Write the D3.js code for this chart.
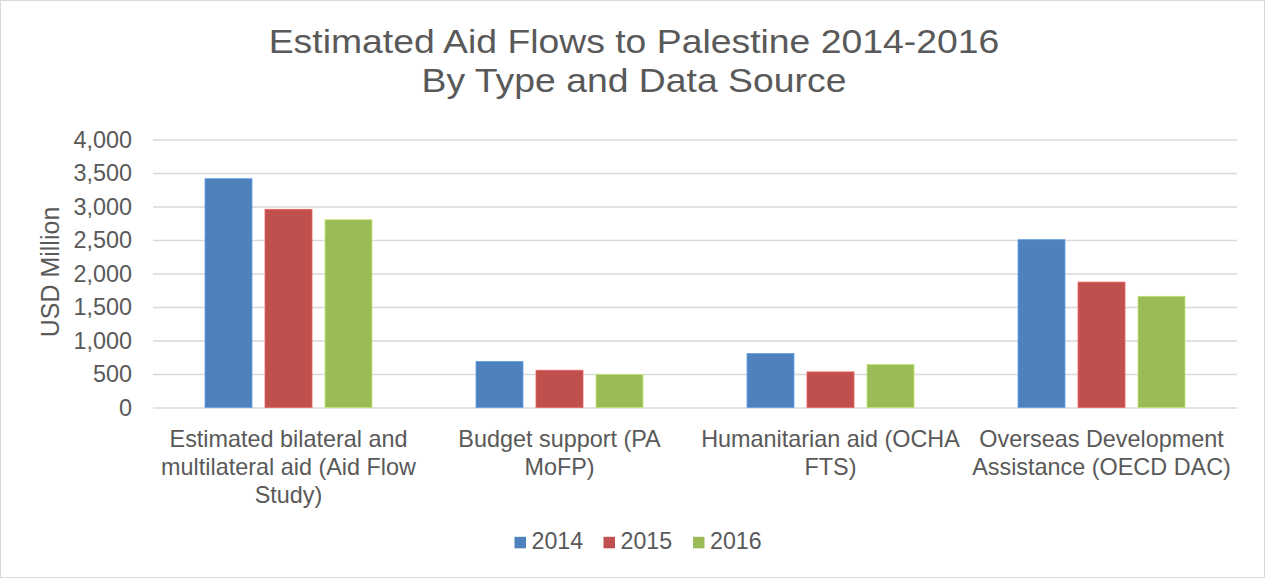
<!DOCTYPE html>
<html>
<head>
<meta charset="utf-8">
<script src="https://cdn.jsdelivr.net/npm/d3@7"></script>
<style>
body { margin: 0; background: #fff; }
svg { font-family: "Liberation Sans", Arial, sans-serif; }
</style>
</head>
<body>
<div id="chart"></div>
<script>
// chart data
var categories = [
  "Estimated bilateral and multilateral aid (Aid Flow Study)",
  "Budget support (PA MoFP)",
  "Humanitarian aid (OCHA FTS)",
  "Overseas Development Assistance (OECD DAC)"
];
// tick label lines, as wrapped in the picture
var categoryLines = [
  ["Estimated bilateral and", "multilateral aid (Aid Flow", "Study)"],
  ["Budget support (PA", "MoFP)"],
  ["Humanitarian aid (OCHA", "FTS)"],
  ["Overseas Development", "Assistance (OECD DAC)"]
];
var years = ["2014", "2015", "2016"];
var values2014 = [3415, 688, 805, 2505];
var values2015 = [2958, 556, 531, 1872];
var values2016 = [2802, 492, 641, 1660];
var yTicks = [0, 500, 1000, 1500, 2000, 2500, 3000, 3500, 4000];
var colors = ["#4f81bd", "#c0504d", "#9bbb59"];

var width = 1265;
var height = 579;
var plotLeft = 153, plotRight = 1237, plotTop = 139.5, plotBottom = 407.5;

var series = [values2014, values2015, values2016];
var rows = categories.map(function(c, i) {
  return { cat: c, vals: years.map(function(y, j) { return { year: y, value: series[j][i], idx: j }; }) };
});

var svg = d3.select("#chart")
  .append("svg")
  .attr("width", width)
  .attr("height", height);

svg.append("rect")
  .attr("x", 0.5).attr("y", 0.5)
  .attr("width", width - 1).attr("height", height - 2)
  .attr("fill", "#fff")
  .attr("stroke", "#d9d9d9");

var x0 = d3.scaleBand().domain(categories).range([plotLeft, plotRight]);
var groupW = 167;
var x1 = d3.scaleBand().domain(years)
  .range([(x0.bandwidth() - groupW) / 2, (x0.bandwidth() + groupW) / 2])
  .paddingInner(13 / 60);
var y = d3.scaleLinear().domain([0, 4000]).range([plotBottom, plotTop]);

// gridlines + y labels
var yAxis = d3.axisLeft(y)
  .tickValues(yTicks)
  .tickSize(-(plotRight - plotLeft))
  .tickPadding(21)
  .tickFormat(d3.format(","));

var gy = svg.append("g")
  .attr("transform", "translate(" + plotLeft + ",0)")
  .call(yAxis);
gy.select(".domain").remove();
gy.selectAll(".tick line").attr("stroke", "#d9d9d9").attr("stroke-width", 1.5);
gy.selectAll(".tick text")
  .attr("fill", "#595959")
  .attr("font-size", "23.4px")
  .attr("font-family", "Liberation Sans, Arial, sans-serif");

// bars
var groups = svg.selectAll("g.cat")
  .data(rows)
  .enter()
  .append("g")
  .attr("class", "cat")
  .attr("transform", function(d) { return "translate(" + x0(d.cat) + ",0)"; });

groups.selectAll("rect")
  .data(function(d) { return d.vals; })
  .enter()
  .append("rect")
  .attr("x", function(d) { return x1(d.year); })
  .attr("y", function(d) { return y(d.value); })
  .attr("width", x1.bandwidth())
  .attr("height", function(d) { return plotBottom - y(d.value); })
  .attr("fill", function(d) { return colors[d.idx]; })
  .attr("stroke", function(d) { return d3.color(colors[d.idx]).brighter(0.6); })
  .attr("stroke-width", 0.8);

// category labels
var xAxis = d3.axisBottom(x0).tickSize(0).tickPadding(0);
var gx = svg.append("g")
  .attr("transform", "translate(0," + plotBottom + ")")
  .call(xAxis);
gx.select(".domain").remove();
gx.selectAll(".tick text")
  .attr("fill", "#595959")
  .attr("font-size", "23.4px")
  .attr("font-family", "Liberation Sans, Arial, sans-serif")
  .attr("dy", null)
  .each(function(d, i) {
    var text = d3.select(this).text(null);
    categoryLines[i].forEach(function(line, k) {
      text.append("tspan").attr("x", 0).attr("y", 39.5 + k * 28).text(line);
    });
  });

// axis title
svg.append("text")
  .attr("transform", "translate(59," + 272 + ")rotate(-90)")
  .attr("text-anchor", "middle")
  .attr("fill", "#595959")
  .attr("font-size", "25px")
  .text("USD Million");

// chart title
var title = svg.append("text")
  .attr("transform", "translate(634,0) scale(1.149,1)")
  .attr("text-anchor", "middle")
  .attr("fill", "#595959")
  .attr("font-size", "32.5px");
title.append("tspan").attr("x", 0).attr("y", 53.5).text("Estimated Aid Flows to Palestine 2014-2016");
title.append("tspan").attr("x", 0).attr("y", 92).text("By Type and Data Source");

// legend
var legendX = [514.5, 603.5, 693];
var legend = svg.selectAll("g.legend")
  .data(years)
  .enter()
  .append("g")
  .attr("class", "legend")
  .attr("transform", function(d, i) { return "translate(" + legendX[i] + ",536.8)"; });
legend.append("rect")
  .attr("width", 11.5).attr("height", 11.5)
  .attr("fill", function(d, i) { return colors[i]; });
legend.append("text")
  .attr("x", 17).attr("y", 12.5)
  .attr("fill", "#595959")
  .attr("font-size", "23.2px")
  .text(function(d) { return d; });
</script>
</body>
</html>
